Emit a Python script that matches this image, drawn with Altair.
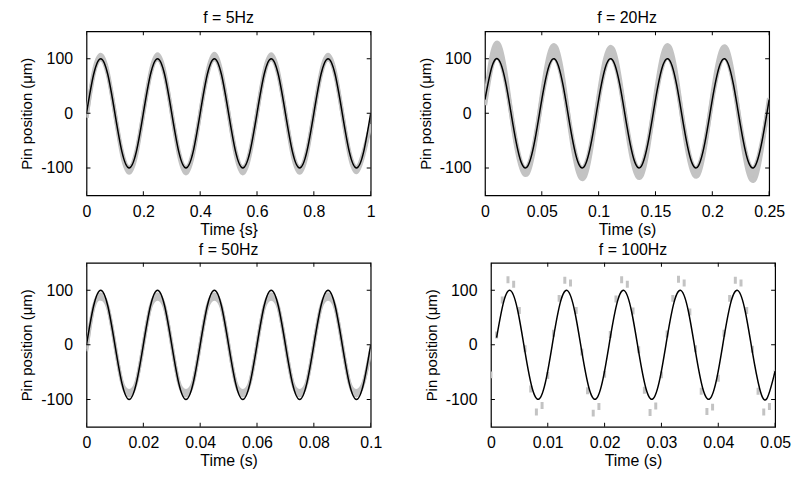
import altair as alt
import pandas as pd

FONT = "Liberation Sans"
GRAY = "#c3c3c3"

# ---------------- panel 1 : f = 5 Hz ----------------
T1 = [round(i * 0.025, 4) for i in range(41)]
B1 = [0, 71, 100, 71, 0, -71, -100, -71,
      0, 71, 100, 71, 0, -71, -100, -71,
      0, 71, 100, 71, 0, -71, -100, -71,
      0, 71, 100, 71, 0, -71, -100, -71,
      0, 71, 100, 71, 0, -71, -100, -71, 0]
G1_HI = [-8, 75, 107, 75, 0, -76, -109, -76,
         0, 75, 108, 75, 0, -76, -110, -76,
         0, 75, 109, 75, 0, -76, -110, -76,
         0, 75, 108, 75, 0, -76, -109, -76,
         0, 75, 107, 75, 0, -76, -108, -76, -20]
G1_LO = [-8, 70, 99, 70, 0, -70, -99, -70,
         0, 70, 99, 70, 0, -70, -99, -70,
         0, 70, 99, 70, 0, -70, -99, -70,
         0, 70, 99, 70, 0, -70, -99, -70,
         0, 70, 99, 70, 0, -70, -99, -70, -20]
X1_TICKS = [0, 0.2, 0.4, 0.6, 0.8, 1]

# ---------------- panel 2 : f = 20 Hz ----------------
T2 = [round(i * 0.00625, 5) for i in range(41)]
B2 = [25, 86, 97, 51, -25, -86, -97, -51,
      25, 86, 97, 51, -25, -86, -97, -51,
      25, 86, 97, 51, -25, -86, -97, -51,
      25, 86, 97, 51, -25, -86, -97, -51,
      25, 86, 97, 51, -25, -86, -97, -51, 25]
G2_HI = [20, 108, 125, 64, -28, -95, -110, -57,
         31, 106, 121, 63, -30, -102, -117, -60,
         31, 103, 118, 61, -30, -100, -115, -59,
         31, 106, 121, 63, -29, -98, -113, -58,
         31, 104, 119, 62, -31, -105, -120, -61, 28]
G2_LO = [15, 88, 100, 53, -25, -87, -98, -52,
         26, 88, 100, 53, -25, -87, -98, -52,
         26, 88, 100, 53, -25, -87, -98, -52,
         26, 88, 100, 53, -25, -87, -98, -52,
         26, 88, 100, 53, -25, -87, -98, -52, 20]
X2_TICKS = [0, 0.05, 0.1, 0.15, 0.2, 0.25]

# ---------------- panel 3 : f = 50 Hz ----------------
T3 = [round(i * 0.0025, 5) for i in range(41)]
B3 = [0, 71, 100, 71, 0, -71, -100, -71,
      0, 71, 100, 71, 0, -71, -100, -71,
      0, 71, 100, 71, 0, -71, -100, -71,
      0, 71, 100, 71, 0, -71, -100, -71,
      0, 71, 100, 71, 0, -71, -100, -71, 0]
G3_HI = [-8, 70, 93, 70, 0, -70, -93, -70,
         0, 70, 93, 70, 0, -70, -93, -70,
         0, 70, 93, 70, 0, -70, -93, -70,
         0, 70, 93, 70, 0, -70, -93, -70,
         0, 70, 93, 70, 0, -70, -93, -70, -8]
G3_LO = [-12, 68, 84, 68, 0, -68, -84, -68,
         0, 68, 84, 68, 0, -68, -84, -68,
         0, 68, 84, 68, 0, -68, -84, -68,
         0, 68, 84, 68, 0, -68, -84, -68,
         0, 68, 84, 68, 0, -68, -84, -68, -12]
X3_TICKS = [0, 0.02, 0.04, 0.06, 0.08, 0.1]

# ---------------- panel 4 : f = 100 Hz ----------------
T4 = [round(0.001 + k * 0.00125, 6) for k in range(39)] + [0.05]
B4 = [13, 79, 99, 61, -13, -79, -99, -61,
      13, 79, 99, 61, -13, -79, -99, -61,
      13, 79, 99, 61, -13, -79, -99, -61,
      13, 79, 99, 61, -13, -79, -99, -61,
      13, 79, 99, 61, -13, -79, -99, -48]
S4_T = [round(k * 0.001, 4) for k in range(51)]
S4_V = [-55, 18, 82, 119, 111, 63, -7, -81, -123, -111,
        -56, 21, 85, 118, 113, 63, -13, -84, -125, -113,
        -54, 19, 84, 119, 111, 62, -9, -83, -124, -112,
        -55, 20, 85, 120, 113, 60, -7, -85, -122, -114,
        -61, 21, 85, 118, 113, 63, -8, -85, -123, -113,
        -52]
X4_TICKS = [0, 0.01, 0.02, 0.03, 0.04, 0.05]

Y_TICKS = [-100, 0, 100]
W, H = 286, 165


def panel(title, xtitle, xmax, xticks, t_black, v_black,
          t_gray=None, hi=None, lo=None, gw=4.0, st=None, sv=None):
    xs = alt.Scale(domain=[0, xmax], nice=False, zero=False)
    ys = alt.Scale(domain=[-150, 150], nice=False)
    xax = alt.Axis(values=xticks, labelExpr="'' + datum.value", title=xtitle,
                   labelFlush=False, labelOverlap=False)
    yax = alt.Axis(values=Y_TICKS, labelExpr="'' + datum.value",
                   title="Pin position (\u03bcm)", labelFlush=False,
                   labelOverlap=False)
    layers = []
    if hi is not None:
        gdf = pd.DataFrame({"t": t_gray, "hi": hi, "lo": lo})
        base = alt.Chart(gdf)
        layers.append(base.mark_area(color=GRAY, interpolate="natural", clip=True).encode(
            x=alt.X("t:Q", scale=xs, axis=xax),
            y=alt.Y("lo:Q", scale=ys, axis=yax),
            y2="hi:Q"))
        for col in ("hi", "lo"):
            layers.append(base.mark_line(color=GRAY, strokeWidth=gw,
                                         interpolate="natural", clip=True).encode(
                x=alt.X("t:Q", scale=xs, axis=xax),
                y=alt.Y(col + ":Q", scale=ys, axis=yax)))
    if st is not None:
        sdf = pd.DataFrame({"t": st, "v": sv})
        layers.append(alt.Chart(sdf).mark_tick(color=GRAY, orient="vertical",
                                               size=7, thickness=3, opacity=1,
                                               clip=True).encode(
            x=alt.X("t:Q", scale=xs, axis=xax),
            y=alt.Y("v:Q", scale=ys, axis=yax)))
    bdf = pd.DataFrame({"t": t_black, "v": v_black})
    layers.append(alt.Chart(bdf).mark_line(color="black", strokeWidth=1.5,
                                           interpolate="natural", clip=True).encode(
        x=alt.X("t:Q", scale=xs, axis=xax),
        y=alt.Y("v:Q", scale=ys, axis=yax)))
    # inward tick marks on all four sides (MATLAB box style)
    xt = pd.DataFrame({"t": xticks})
    for ypos in (0, H):
        layers.append(alt.Chart(xt).mark_tick(color="black", orient="vertical",
                                              size=8, thickness=1, opacity=1,
                                              clip=True).encode(
            x=alt.X("t:Q", scale=xs, axis=xax), y=alt.value(ypos)))
    yt = pd.DataFrame({"v": Y_TICKS})
    for xpos in (0, W):
        layers.append(alt.Chart(yt).mark_tick(color="black", orient="horizontal",
                                              size=8, thickness=1, opacity=1,
                                              clip=True).encode(
            y=alt.Y("v:Q", scale=ys, axis=yax), x=alt.value(xpos)))
    return alt.layer(*layers).properties(
        width=W, height=H,
        title=alt.Title(title, anchor="middle"))


p1 = panel("f = 5Hz", "Time {s}", 1, X1_TICKS, T1, B1, T1, G1_HI, G1_LO, gw=4.0)
p2 = panel("f = 20Hz", "Time (s)", 0.25, X2_TICKS, T2, B2, T2, G2_HI, G2_LO, gw=4.5)
p3 = panel("f = 50Hz", "Time (s)", 0.1, X3_TICKS, T3, B3, T3, G3_HI, G3_LO, gw=3.5)
p4 = panel("f = 100Hz", "Time (s)", 0.05, X4_TICKS, T4, B4, st=S4_T, sv=S4_V)

chart = alt.vconcat(
    alt.hconcat(p1, p2, spacing=41),
    alt.hconcat(p3, p4, spacing=41),
    spacing=3,
).properties(
    padding={"left": 11, "top": 0, "right": 0, "bottom": 0},
    background="white",
).configure_view(
    stroke="black", strokeWidth=1.2
).configure_axis(
    domain=False, ticks=False, grid=False,
    labelFont=FONT, labelFontSize=16, labelColor="black",
    titleFont=FONT, titleFontSize=16, titleFontWeight="normal", titleColor="black",
).configure_axisX(
    labelPadding=8, titlePadding=2
).configure_axisY(
    labelPadding=14, titlePadding=6, titleFontSize=15
).configure_title(
    font=FONT, fontSize=16, fontWeight="normal", color="black", offset=5
)

chart.save("out.html", embed_options={"renderer": "svg", "actions": False})
